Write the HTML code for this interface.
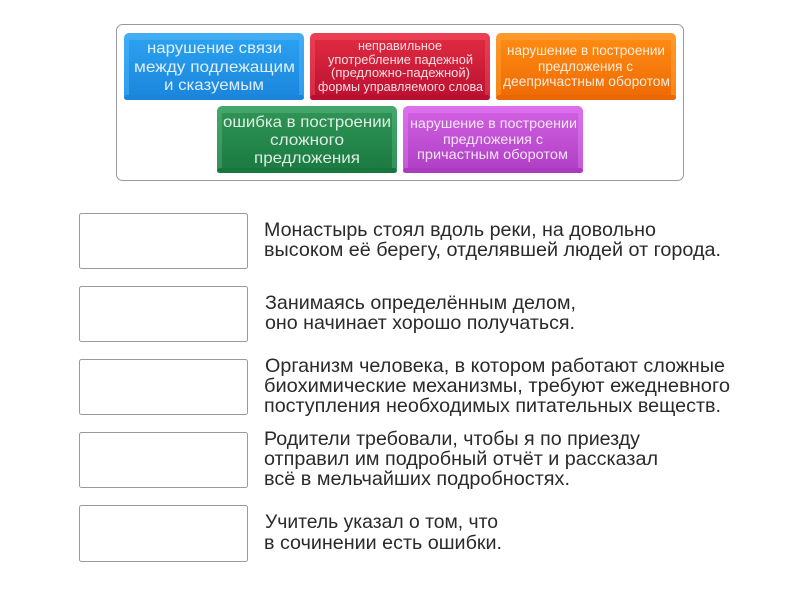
<!DOCTYPE html>
<html><head><meta charset="utf-8">
<style>
html,body{margin:0;padding:0;background:#fff;width:800px;height:600px;overflow:hidden}
svg{display:block}
text{font-family:"Liberation Sans",sans-serif}
.t{fill:#fff;fill-opacity:.85;text-anchor:start}
.d{fill:#2a2a2a;font-size:19.5px}
.b{fill:#fff;stroke:#9a9a9a;stroke-width:1}
</style></head><body>
<svg width="800" height="600" viewBox="0 0 800 600" xmlns="http://www.w3.org/2000/svg">
<defs>
<linearGradient id="gb" x1="0" y1="0" x2="0" y2="1"><stop offset="0" stop-color="#2ba0ef"/><stop offset="1" stop-color="#1b87dd"/></linearGradient>
<linearGradient id="gr" x1="0" y1="0" x2="0" y2="1"><stop offset="0" stop-color="#de2a40"/><stop offset="1" stop-color="#bd1232"/></linearGradient>
<linearGradient id="go" x1="0" y1="0" x2="0" y2="1"><stop offset="0" stop-color="#fd8a12"/><stop offset="1" stop-color="#ef6c05"/></linearGradient>
<linearGradient id="gg" x1="0" y1="0" x2="0" y2="1"><stop offset="0" stop-color="#2f9355"/><stop offset="1" stop-color="#1b7b42"/></linearGradient>
<linearGradient id="gp" x1="0" y1="0" x2="0" y2="1"><stop offset="0" stop-color="#cf5fe0"/><stop offset="1" stop-color="#b140c6"/></linearGradient>
<linearGradient id="ob" x1="0" y1="0" x2="0" y2="1"><stop offset="0" stop-color="#42adf5"/><stop offset="1" stop-color="#2f9cec"/></linearGradient>
<linearGradient id="or" x1="0" y1="0" x2="0" y2="1"><stop offset="0" stop-color="#ec3f54"/><stop offset="1" stop-color="#d22a42"/></linearGradient>
<linearGradient id="oo" x1="0" y1="0" x2="0" y2="1"><stop offset="0" stop-color="#fe9a2c"/><stop offset="1" stop-color="#f88412"/></linearGradient>
<linearGradient id="og" x1="0" y1="0" x2="0" y2="1"><stop offset="0" stop-color="#46a76c"/><stop offset="1" stop-color="#329058"/></linearGradient>
<linearGradient id="op" x1="0" y1="0" x2="0" y2="1"><stop offset="0" stop-color="#dd70ee"/><stop offset="1" stop-color="#c558d8"/></linearGradient>
</defs>
<rect x="116.5" y="24.5" width="567" height="156" rx="6" fill="#fff" stroke="#9a9a9a"/>

<rect x="124" y="33" width="180" height="67" rx="5" fill="url(#ob)"/>
<rect x="129" y="40" width="170" height="55" fill="url(#gb)"/>
<rect x="124" y="95" width="180" height="5" rx="2.5" fill="#1b84dc"/>
<text class="t" x="147" y="53" font-size="16" textLength="135" lengthAdjust="spacingAndGlyphs">нарушение связи</text>
<text class="t" x="134" y="72" font-size="16" textLength="161" lengthAdjust="spacingAndGlyphs">между подлежащим</text>
<text class="t" x="164" y="90" font-size="16" textLength="100" lengthAdjust="spacingAndGlyphs">и сказуемым</text>

<rect x="310" y="33" width="180" height="67" rx="5" fill="url(#or)"/>
<rect x="315" y="40" width="170" height="55" fill="url(#gr)"/>
<rect x="310" y="95" width="180" height="5" rx="2.5" fill="#b80f2f"/>
<text class="t" x="358" y="50" font-size="12.5" textLength="84" lengthAdjust="spacingAndGlyphs">неправильное</text>
<text class="t" x="328" y="64" font-size="12.5" textLength="145" lengthAdjust="spacingAndGlyphs">употребление падежной</text>
<text class="t" x="331" y="77" font-size="12.5" textLength="139" lengthAdjust="spacingAndGlyphs">(предложно-падежной)</text>
<text class="t" x="318" y="91" font-size="12.5" textLength="165" lengthAdjust="spacingAndGlyphs">формы управляемого слова</text>

<rect x="496" y="33" width="180" height="67" rx="5" fill="url(#oo)"/>
<rect x="501" y="40" width="170" height="55" fill="url(#go)"/>
<rect x="496" y="95" width="180" height="5" rx="2.5" fill="#ea6703"/>
<text class="t" x="507" y="55" font-size="14" textLength="158" lengthAdjust="spacingAndGlyphs">нарушение в построении</text>
<text class="t" x="538" y="71" font-size="14" textLength="95" lengthAdjust="spacingAndGlyphs">предложения с</text>
<text class="t" x="503" y="86" font-size="14" textLength="167" lengthAdjust="spacingAndGlyphs">деепричастным оборотом</text>

<rect x="217" y="106" width="180" height="67" rx="5" fill="url(#og)"/>
<rect x="222" y="113" width="170" height="55" fill="url(#gg)"/>
<rect x="217" y="168" width="180" height="5" rx="2.5" fill="#17763e"/>
<text class="t" x="223" y="127" font-size="16" textLength="168" lengthAdjust="spacingAndGlyphs">ошибка в построении</text>
<text class="t" x="270" y="145" font-size="16" textLength="74" lengthAdjust="spacingAndGlyphs">сложного</text>
<text class="t" x="254" y="163" font-size="16" textLength="106" lengthAdjust="spacingAndGlyphs">предложения</text>

<rect x="403" y="106" width="180" height="67" rx="5" fill="url(#op)"/>
<rect x="408" y="113" width="170" height="55" fill="url(#gp)"/>
<rect x="403" y="168" width="180" height="5" rx="2.5" fill="#aa3abf"/>
<text class="t" x="410" y="128" font-size="14" textLength="167" lengthAdjust="spacingAndGlyphs">нарушение в построении</text>
<text class="t" x="443" y="144" font-size="14" textLength="100" lengthAdjust="spacingAndGlyphs">предложения с</text>
<text class="t" x="417" y="159" font-size="14" textLength="151" lengthAdjust="spacingAndGlyphs">причастным оборотом</text>

<rect class="b" x="79.5" y="213.5" width="168" height="55" rx="2"/>
<rect class="b" x="79.5" y="286.5" width="168" height="55" rx="2"/>
<rect class="b" x="79.5" y="359.5" width="168" height="55" rx="2"/>
<rect class="b" x="79.5" y="432.5" width="168" height="55" rx="2"/>
<rect class="b" x="79.5" y="505.5" width="168" height="56" rx="2"/>

<text class="d" x="264" y="236" textLength="392" lengthAdjust="spacingAndGlyphs">Монастырь стоял вдоль реки, на довольно</text>
<text class="d" x="264" y="256" textLength="457" lengthAdjust="spacingAndGlyphs">высоком её берегу, отделявшей людей от города.</text>
<text class="d" x="265" y="309" textLength="311" lengthAdjust="spacingAndGlyphs">Занимаясь определённым делом,</text>
<text class="d" x="265" y="329" textLength="310" lengthAdjust="spacingAndGlyphs">оно начинает хорошо получаться.</text>
<text class="d" x="265" y="372" textLength="460" lengthAdjust="spacingAndGlyphs">Организм человека, в котором работают сложные</text>
<text class="d" x="264" y="392" textLength="466" lengthAdjust="spacingAndGlyphs">биохимические механизмы, требуют ежедневного</text>
<text class="d" x="264" y="412" textLength="457" lengthAdjust="spacingAndGlyphs">поступления необходимых питательных веществ.</text>
<text class="d" x="264" y="445" textLength="376" lengthAdjust="spacingAndGlyphs">Родители требовали, чтобы я по приезду</text>
<text class="d" x="264" y="465" textLength="394" lengthAdjust="spacingAndGlyphs">отправил им подробный отчёт и рассказал</text>
<text class="d" x="264" y="485" textLength="306" lengthAdjust="spacingAndGlyphs">всё в мельчайших подробностях.</text>
<text class="d" x="265" y="528" textLength="233" lengthAdjust="spacingAndGlyphs">Учитель указал о том, что</text>
<text class="d" x="264" y="549" textLength="238" lengthAdjust="spacingAndGlyphs">в сочинении есть ошибки.</text>
</svg>
</body></html>
